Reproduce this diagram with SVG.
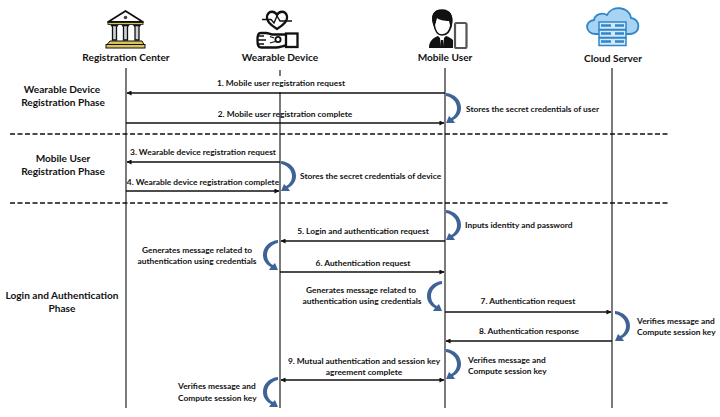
<svg xmlns="http://www.w3.org/2000/svg" width="720" height="417" viewBox="0 0 720 417">
<style>
text{font-family:"Lato","Open Sans","Liberation Sans",sans-serif;font-weight:700;fill:#111}
.t{font-size:10.1px;text-anchor:middle}
.p{font-size:10.1px;text-anchor:middle}
.m{font-size:8.4px;text-anchor:middle}
.n{font-size:8.4px}
.life{stroke:#333;stroke-width:1.3;fill:none}
.msg{stroke:#111;stroke-width:1.3;fill:none}
.to{marker-end:url(#a)}
.dash{stroke:#111;stroke-width:1.5;stroke-dasharray:5 2.5;fill:none}
.ic{fill:none;stroke:#111;stroke-width:2.3}
</style>
<defs>
<marker id="a" viewBox="0 0 6 6" refX="5.5" refY="3" markerWidth="5" markerHeight="5" markerUnits="userSpaceOnUse" orient="auto-start-reverse"><path d="M0 0L6 3L0 6Z" fill="#111"/></marker>
<path id="cr" d="M0 0C9 1 15 7 15 15C15 21 11 25 7 27L9 30L0 30L3 23L5 25C9 23 11 19 11 15C11 9 6 4 0 3Z" fill="#3f6297"/>
</defs>
<rect width="720" height="417" fill="#fff"/>
<g id="connectors">
<path class="life" d="M126 68V408"/>
<path class="life" d="M280 70V76M280 92V408"/>
<path class="life" d="M445 68V408"/>
<path class="life" d="M612 68V408"/>
<path class="dash" d="M10 134H670"/>
<path class="dash" d="M10 203H670"/>
<path class="msg to" d="M445 93H127"/>
<path class="msg to" d="M126 123H444"/>
<path class="msg to" d="M280 162H127"/>
<path class="msg to" d="M126 191H279"/>
<path class="msg to" d="M445 241H281"/>
<path class="msg to" d="M280 272H444"/>
<path class="msg to" d="M445 312H611"/>
<path class="msg to" d="M612 341H446"/>
<path class="msg" marker-start="url(#a)" marker-end="url(#a)" d="M281 380H444"/>
<use href="#cr" x="446" y="93"/>
<use href="#cr" x="281" y="161"/>
<use href="#cr" x="446" y="210"/>
<use href="#cr" transform="translate(278 240) scale(-1 1)"/>
<use href="#cr" transform="translate(442 281) scale(-1 1)"/>
<use href="#cr" x="615" y="311"/>
<use href="#cr" x="446" y="349"/>
<use href="#cr" transform="translate(278 377) scale(-1 1)"/>
</g>
<g id="registration-center">
<path d="M125.500 11L143 22H108Z" fill="#fff" stroke="#111" stroke-width="1.800" stroke-linejoin="round"/>
<circle cx="125.500" cy="17.500" r="1.800" fill="#444"/>
<rect x="108" y="22.500" width="35" height="2" fill="#d8c25a" stroke="#111" stroke-width=".8"/>
<g fill="#c9d3d8" stroke="#111" stroke-width="1.300">
<path d="M111.500 25.500H117.500L116.500 27V40H112.500V27ZM122.500 25.500H128.500L127.500 27V40H123.500V27ZM134 25.500H140L139 27V40H135V27Z"/>
</g>
<path d="M110 41H142L144 44.500H107Z" fill="#d8c25a" stroke="#111" stroke-width="1"/>
<rect x="106" y="44.500" width="39" height="3.500" fill="#d8c25a" stroke="#111" stroke-width="1"/>
<text class="t" x="126" y="61">Registration Center</text>
</g>
<g id="wearable-device">
<path class="ic" d="M277 29C269 24 266 20 267 16C269 10 275 11 277 15C279 11 285 10 287 16C288 20 285 24 277 29Z"/>
<path d="M262 19.500H271L274 23L277 16L280 21H292" fill="none" stroke="#111" stroke-width="1.400"/>
<rect x="286" y="33.500" width="11.500" height="13.500" fill="#fff" stroke="#111" stroke-width="2.300"/>
<path class="ic" d="M286 34.500H272C270 34 268 33 266 33H261C258 33 257.500 35 257.500 40C257.500 45 258 47.500 261 47.500H276C279 47.500 283 46 286 45.500"/>
<circle cx="278" cy="39.500" r="2.600" fill="none" stroke="#111" stroke-width="1.800"/>
<path d="M257.500 36H264M257.500 40H266M257.500 44H264M270 36.500L274 38M270 43L275 41.500" stroke="#111" stroke-width="1.300"/>
<text class="t" x="280" y="61">Wearable Device</text>
</g>
<g id="mobile-user">
<path d="M434 24C431 16 434 10 442 10C450 10 453 16 451 25C450 31 447 35 442 35C438 35 435 31 434 24Z" fill="#fff" stroke="#111" stroke-width="1.600"/>
<path d="M434 27C430 17 433 10 441 10C451 9 455 17 451 29L449 21C444 21 439 20 437 18C436 21 436 24 434 27Z" fill="#111"/>
<path d="M429 48C429 41 433 38 438 36L442 40L446 36C449 37 451 38 453 40V48Z" fill="#111"/>
<path d="M440 38H444L443 47H441Z" fill="#fff"/>
<path d="M441 40H443L443.500 46L442 48L440.500 46Z" fill="#111"/>
<rect x="455" y="23" width="11.500" height="25" rx="1.500" fill="#fff" stroke="#555" stroke-width="2.200"/>
<text class="t" x="445" y="61">Mobile User</text>
</g>
<g id="cloud-server">
<path d="M596 34C585 34 584 21 594 20C595 14 603 12 607 15C612 5 629 6 631 18C641 19 641 34 630 34Z" fill="#a9d3f2" stroke="#2f86c9" stroke-width="1.800"/>
<g fill="#d3e9f8" stroke="#2f86c9" stroke-width="1.500">
<rect x="599" y="22" width="27" height="7.500"/><rect x="599" y="30" width="27" height="7.500"/><rect x="599" y="38" width="27" height="7.500"/>
</g>
<path d="M601 25.500H611M601 33.500H611M601 41.500H611M615 25.500H624M615 33.500H624M615 41.500H624" stroke="#2f86c9" stroke-width="2.400"/>
<text class="t" x="613" y="62">Cloud Server</text>
</g>
<g id="phases">
<text class="p" x="62" y="93">Wearable Device</text>
<text class="p" x="63" y="106">Registration Phase</text>
<text class="p" x="63" y="162">Mobile User</text>
<text class="p" x="63" y="175">Registration Phase</text>
<text class="p" x="62" y="299">Login and Authentication</text>
<text class="p" x="62" y="312">Phase</text>
</g>
<g id="labels">
<text class="m" x="281" y="86">1. Mobile user registration request</text>
<text class="m" x="285" y="117">2. Mobile user registration complete</text>
<text class="m" x="203" y="155">3. Wearable device registration request</text>
<text class="m" x="203" y="185">4. Wearable device registration complete</text>
<text class="m" x="363" y="234">5. Login and authentication request</text>
<text class="m" x="363" y="266">6. Authentication request</text>
<text class="m" x="528" y="304">7. Authentication request</text>
<text class="m" x="529" y="334">8. Authentication response</text>
<text class="m" x="364" y="364">9. Mutual authentication and session key</text>
<text class="m" x="364" y="375">agreement complete</text>
<text class="n" x="466" y="112">Stores the secret credentials of user</text>
<text class="n" x="300" y="179">Stores the secret credentials of device</text>
<text class="n" x="465" y="228">Inputs identity and password</text>
<text class="m" x="197" y="253">Generates message related to</text>
<text class="m" x="197" y="264">authentication using credentials</text>
<text class="m" x="361" y="293">Generates message related to</text>
<text class="m" x="362" y="304">authentication using credentials</text>
<text class="n" x="637" y="324">Verifies message and</text>
<text class="n" x="637" y="335">Compute session key</text>
<text class="n" x="468" y="363">Verifies message and</text>
<text class="n" x="468" y="374">Compute session key</text>
<text class="n" x="178" y="389">Verifies message and</text>
<text class="n" x="178" y="401">Compute session key</text>
</g>
</svg>
